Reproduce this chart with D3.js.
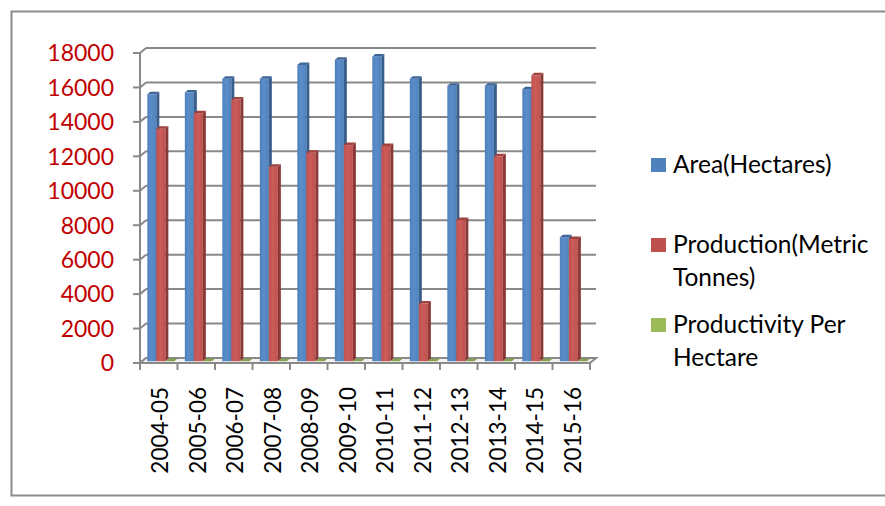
<!DOCTYPE html>
<meta charset="utf-8" />
<script src="https://d3js.org/d3.v7.min.js"></script>
<head>
<style type="text/css">
  body { margin: 0; background: white; }
  text { font-family: Lato, "Open Sans", sans-serif; }
  .y-label { fill: #C00000; font-size: 23px; }
  .x-label { fill: #000; font-size: 22.5px; }
  .legend-text { fill: #000; font-size: 24.5px; }
</style>
</head>
<body>
<svg id="chart" width="885" height="506"></svg>
<script>
  // data
  const years = ["2004-05", "2005-06", "2006-07", "2007-08", "2008-09", "2009-10",
                 "2010-11", "2011-12", "2012-13", "2013-14", "2014-15", "2015-16"];
  const area = [15500, 15600, 16400, 16400, 17200, 17500, 17700, 16400, 16000, 16000, 15800, 7200];
  const production = [13500, 14400, 15200, 11300, 12100, 12550, 12500, 3350, 8200, 11900, 16600, 7100];
  const productivity = [0.87, 0.92, 0.93, 0.69, 0.70, 0.72, 0.71, 0.20, 0.51, 0.74, 1.05, 0.99];
  const yTicks = [0, 2000, 4000, 6000, 8000, 10000, 12000, 14000, 16000, 18000];
  const seriesNames = ["Area(Hectares)", "Production(Metric Tonnes)", "Productivity Per Hectare"];
  const legendLines = [["Area(Hectares)"], ["Production(Metric", "Tonnes)"], ["Productivity Per", "Hectare"]];

  const colors = [
    { front: "#4F81BD", light: "#5B8DCA", side: "#385E8C", top: "#3E6699" },
    { front: "#C0504D", light: "#CB5C59", side: "#8C3836", top: "#A2423F" },
    { front: "#9BBB59", light: "#A6C564", side: "#71893F", top: "#86A34B" }
  ];

  const svg = d3.select("#chart");

  // outer chart border
  svg.append("rect")
    .attr("x", 11.5).attr("y", 11.5)
    .attr("width", 885).attr("height", 484)
    .attr("fill", "white")
    .attr("stroke", "#8c8c8c")
    .attr("stroke-width", 2);

  const x = d3.scaleBand().domain(years).range([140, 590]).padding(0);
  const xs = d3.scaleBand().domain(d3.range(seriesNames.length)).range([0, x.bandwidth()]).paddingOuter(0.58).paddingInner(0);
  const y = d3.scaleLinear().domain([0, 18000]).range([363, 53]);

  // depth of the 3d box, and where the bars sit inside it
  const dx = 6, dy = -5;
  const f0 = 0.35, f1 = 0.85;

  const grid = svg.append("g").attr("stroke", "#898989").attr("stroke-width", 2).attr("fill", "none");

  // back wall gridlines + side wall + ticks
  yTicks.forEach(function (t) {
    if (t > 0) {
      grid.append("line")
        .attr("x1", 140 + dx).attr("x2", 590 + dx)
        .attr("y1", y(t) + dy).attr("y2", y(t) + dy);
    }
    grid.append("line")
      .attr("x1", 140).attr("x2", 140 + dx)
      .attr("y1", y(t)).attr("y2", y(t) + dy);
    grid.append("line")
      .attr("x1", 133).attr("x2", 140)
      .attr("y1", y(t)).attr("y2", y(t));
  });

  grid.append("line")
    .attr("x1", 140).attr("x2", 140)
    .attr("y1", y(0)).attr("y2", y(18000));

  // floor
  grid.append("path")
    .attr("d", d3.line()([[140, y(0)], [140 + dx, y(0) + dy], [590 + dx, y(0) + dy], [590, y(0)], [140, y(0)]]))
    .attr("fill", "#f2f2f2");

  // category ticks under the floor
  d3.range(years.length + 1).forEach(function (i) {
    const xp = i < years.length ? x(years[i]) : x.range()[1];
    grid.append("line")
      .attr("x1", xp).attr("x2", xp)
      .attr("y1", y(0)).attr("y2", y(0) + 7);
  });

  // gradients for the bar fronts
  const defs = svg.append("defs");
  colors.forEach(function (c, i) {
    const g = defs.append("linearGradient").attr("id", "grad" + i)
      .attr("x1", "0%").attr("x2", "100%").attr("y1", "0%").attr("y2", "0%");
    g.append("stop").attr("offset", "0%").attr("stop-color", c.front);
    g.append("stop").attr("offset", "45%").attr("stop-color", c.light);
    g.append("stop").attr("offset", "100%").attr("stop-color", c.front);
  });

  const allSeries = [area, production, productivity];
  const bars = svg.append("g");
  const w = xs.bandwidth();
  const ox = dx * f0, oy = dy * f0;
  const ddx = dx * (f1 - f0), ddy = dy * (f1 - f0);

  years.forEach(function (yr, i) {
    allSeries.forEach(function (vals, s) {
      const left = x(yr) + xs(s) + ox;
      const top = y(vals[i]) + oy;
      const bottom = y(0) + oy;
      const c = colors[s];
      // front
      bars.append("rect")
        .attr("x", left).attr("y", top)
        .attr("width", w).attr("height", Math.max(0, bottom - top))
        .attr("fill", "url(#grad" + s + ")");
      // side
      bars.append("path")
        .attr("d", d3.line()([[left + w, top], [left + w + ddx, top + ddy], [left + w + ddx, bottom + ddy], [left + w, bottom]]) + "Z")
        .attr("fill", c.side);
      // top
      bars.append("path")
        .attr("d", d3.line()([[left, top], [left + ddx, top + ddy], [left + w + ddx, top + ddy], [left + w, top]]) + "Z")
        .attr("fill", c.top);
    });
  });

  // y axis labels
  svg.append("g").selectAll("text")
    .data(yTicks)
    .enter()
    .append("text")
    .attr("class", "y-label")
    .attr("x", 114)
    .attr("y", d => y(d))
    .attr("dy", "0.36em")
    .attr("text-anchor", "end")
    .text(d => d);

  // x axis labels, rotated
  svg.append("g").selectAll("text")
    .data(years)
    .enter()
    .append("text")
    .attr("class", "x-label")
    .attr("transform", d => "translate(" + (x(d) + x.bandwidth() / 2 + 1.5) + ",387) rotate(-90)")
    .attr("dy", "0.36em")
    .attr("text-anchor", "end")
    .text(d => d);

  // legend
  const legendY = [158, 238, 318];
  const legend = svg.append("g").attr("class", "legend");
  legendLines.forEach(function (lines, i) {
    legend.append("rect")
      .attr("x", 651).attr("y", legendY[i])
      .attr("width", 15).attr("height", 14)
      .attr("fill", colors[i].front);
    lines.forEach(function (ln, j) {
      legend.append("text")
        .attr("class", "legend-text")
        .attr("x", 673)
        .attr("y", legendY[i] + 15 + j * 33)
        .text(ln);
    });
  });
</script>
</body>
</html>
